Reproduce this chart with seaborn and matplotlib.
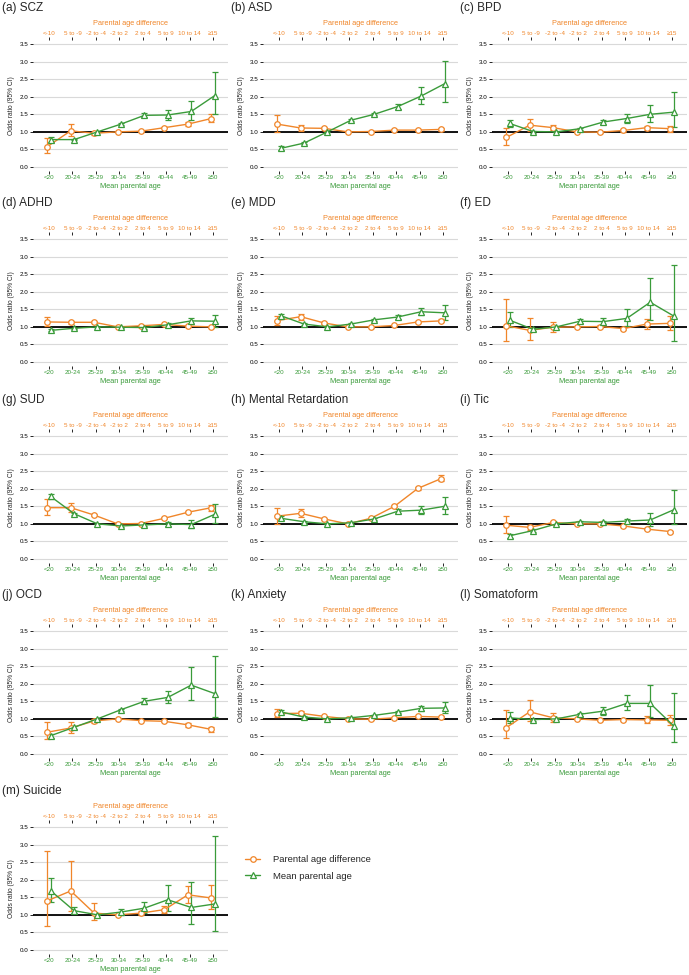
import numpy as np
import pandas as pd
import matplotlib
matplotlib.use("Agg")
import matplotlib.pyplot as plt
from matplotlib.lines import Line2D
import seaborn as sns

diff_labels = ["<-10", "5 to -9", "-2 to -4", "-2 to 2", "2 to 4", "5 to 9", "10 to 14", "\u226515"]
mean_labels = ["<20", "20-24", "25-29", "30-34", "35-39", "40-44", "45-49", "\u226550"]

# odds ratios (diff = parental age difference, mean = mean parental age)
scz_diff    = [0.58, 1.03, 0.96, 1.00, 1.02, 1.12, 1.22, 1.38]
scz_diff_lo = [0.40, 0.87, 0.90, 1.00, 1.00, 1.10, 1.16, 1.28]
scz_diff_hi = [0.83, 1.23, 1.01, 1.00, 1.04, 1.15, 1.29, 1.50]
scz_mean    = [0.78, 0.78, 1.00, 1.22, 1.47, 1.48, 1.58, 2.03]
scz_mean_lo = [0.72, 0.76, 1.00, 1.19, 1.41, 1.35, 1.34, 1.52]
scz_mean_hi = [0.85, 0.80, 1.00, 1.25, 1.54, 1.62, 1.88, 2.70]

asd_diff    = [1.22, 1.11, 1.10, 1.00, 1.01, 1.05, 1.05, 1.07]
asd_diff_lo = [0.99, 1.03, 1.07, 1.00, 0.99, 1.03, 1.03, 1.03]
asd_diff_hi = [1.48, 1.20, 1.13, 1.00, 1.03, 1.07, 1.07, 1.11]
asd_mean    = [0.53, 0.68, 1.00, 1.33, 1.50, 1.72, 2.02, 2.37]
asd_mean_lo = [0.47, 0.65, 1.00, 1.30, 1.47, 1.66, 1.79, 1.86]
asd_mean_hi = [0.59, 0.71, 1.00, 1.36, 1.54, 1.80, 2.27, 3.02]

bpd_diff    = [0.84, 1.19, 1.12, 1.00, 0.99, 1.04, 1.12, 1.09]
bpd_diff_lo = [0.63, 1.02, 1.05, 1.00, 0.97, 1.01, 1.06, 1.00]
bpd_diff_hi = [1.11, 1.38, 1.20, 1.00, 1.01, 1.07, 1.18, 1.18]
bpd_mean    = [1.24, 1.01, 1.00, 1.09, 1.28, 1.38, 1.50, 1.56]
bpd_mean_lo = [1.13, 0.98, 1.00, 1.06, 1.23, 1.26, 1.27, 1.14]
bpd_mean_hi = [1.35, 1.03, 1.00, 1.12, 1.33, 1.51, 1.77, 2.14]

adhd_diff    = [1.14, 1.13, 1.13, 1.00, 1.03, 1.07, 1.02, 1.00]
adhd_diff_lo = [1.02, 1.09, 1.10, 1.00, 1.01, 1.05, 1.00, 0.98]
adhd_diff_hi = [1.27, 1.16, 1.16, 1.00, 1.05, 1.09, 1.04, 1.02]
adhd_mean    = [0.90, 0.96, 1.00, 0.99, 0.98, 1.06, 1.17, 1.16]
adhd_mean_lo = [0.87, 0.94, 1.00, 0.97, 0.95, 1.01, 1.08, 0.99]
adhd_mean_hi = [0.93, 0.98, 1.00, 1.01, 1.01, 1.11, 1.26, 1.34]

mdd_diff    = [1.18, 1.29, 1.11, 1.00, 1.00, 1.04, 1.14, 1.17]
mdd_diff_lo = [1.06, 1.20, 1.08, 1.00, 0.98, 1.02, 1.11, 1.13]
mdd_diff_hi = [1.32, 1.38, 1.14, 1.00, 1.02, 1.06, 1.17, 1.21]
mdd_mean    = [1.32, 1.08, 1.00, 1.08, 1.20, 1.28, 1.43, 1.40]
mdd_mean_lo = [1.28, 1.05, 1.00, 1.06, 1.17, 1.23, 1.34, 1.20]
mdd_mean_hi = [1.36, 1.11, 1.00, 1.10, 1.23, 1.33, 1.53, 1.62]

ed_diff    = [1.03, 0.90, 0.99, 1.00, 1.01, 0.95, 1.08, 1.10]
ed_diff_lo = [0.60, 0.64, 0.86, 1.00, 0.97, 0.91, 0.95, 0.92]
ed_diff_hi = [1.79, 1.26, 1.15, 1.00, 1.05, 0.99, 1.21, 1.31]
ed_mean    = [1.19, 0.93, 1.00, 1.16, 1.15, 1.24, 1.70, 1.31]
ed_mean_lo = [1.00, 0.88, 1.00, 1.10, 1.06, 1.02, 1.20, 0.61]
ed_mean_hi = [1.42, 0.98, 1.00, 1.22, 1.25, 1.51, 2.39, 2.75]

sud_diff    = [1.46, 1.46, 1.25, 1.00, 1.01, 1.16, 1.33, 1.46]
sud_diff_lo = [1.25, 1.33, 1.21, 1.00, 0.99, 1.13, 1.30, 1.38]
sud_diff_hi = [1.70, 1.60, 1.29, 1.00, 1.03, 1.19, 1.36, 1.53]
sud_mean    = [1.78, 1.29, 1.00, 0.94, 0.97, 1.00, 0.98, 1.27]
sud_mean_lo = [1.70, 1.26, 1.00, 0.92, 0.95, 0.95, 0.87, 1.03]
sud_mean_hi = [1.86, 1.32, 1.00, 0.96, 0.99, 1.06, 1.11, 1.56]

mr_diff    = [1.22, 1.30, 1.14, 1.00, 1.16, 1.50, 2.01, 2.29]
mr_diff_lo = [1.00, 1.20, 1.10, 1.00, 1.14, 1.47, 1.97, 2.21]
mr_diff_hi = [1.45, 1.42, 1.18, 1.00, 1.18, 1.53, 2.05, 2.38]
mr_mean    = [1.16, 1.06, 1.00, 1.03, 1.14, 1.36, 1.39, 1.50]
mr_mean_lo = [1.10, 1.03, 1.00, 1.01, 1.11, 1.31, 1.27, 1.27]
mr_mean_hi = [1.21, 1.09, 1.00, 1.05, 1.17, 1.42, 1.52, 1.77]

tic_diff    = [0.96, 0.90, 1.04, 1.00, 1.00, 0.94, 0.85, 0.78]
tic_diff_lo = [0.75, 0.83, 1.01, 1.00, 0.98, 0.92, 0.82, 0.75]
tic_diff_hi = [1.23, 0.97, 1.07, 1.00, 1.02, 0.96, 0.88, 0.81]
tic_mean    = [0.66, 0.81, 1.00, 1.06, 1.04, 1.08, 1.11, 1.40]
tic_mean_lo = [0.61, 0.78, 1.00, 1.03, 1.01, 1.03, 0.93, 1.00]
tic_mean_hi = [0.72, 0.84, 1.00, 1.09, 1.07, 1.13, 1.32, 1.97]

ocd_diff    = [0.62, 0.74, 0.94, 1.00, 0.95, 0.93, 0.83, 0.70]
ocd_diff_lo = [0.42, 0.60, 0.88, 1.00, 0.93, 0.90, 0.77, 0.63]
ocd_diff_hi = [0.91, 0.91, 1.01, 1.00, 0.97, 0.96, 0.89, 0.78]
ocd_mean    = [0.52, 0.76, 1.00, 1.26, 1.50, 1.61, 1.96, 1.72]
ocd_mean_lo = [0.46, 0.72, 1.00, 1.23, 1.42, 1.44, 1.55, 1.06]
ocd_mean_hi = [0.58, 0.80, 1.00, 1.29, 1.59, 1.80, 2.47, 2.79]

anx_diff    = [1.15, 1.16, 1.07, 1.00, 0.99, 1.03, 1.07, 1.05]
anx_diff_lo = [1.04, 1.11, 1.05, 1.00, 0.97, 1.01, 1.05, 1.02]
anx_diff_hi = [1.27, 1.21, 1.09, 1.00, 1.01, 1.05, 1.09, 1.08]
anx_mean    = [1.20, 1.05, 1.00, 1.03, 1.10, 1.19, 1.30, 1.31]
anx_mean_lo = [1.16, 1.03, 1.00, 1.01, 1.08, 1.16, 1.22, 1.16]
anx_mean_hi = [1.24, 1.07, 1.00, 1.05, 1.12, 1.22, 1.38, 1.48]

som_diff    = [0.75, 1.20, 1.03, 1.00, 0.96, 0.98, 0.97, 0.96]
som_diff_lo = [0.45, 0.95, 0.92, 1.00, 0.94, 0.95, 0.87, 0.82]
som_diff_hi = [1.25, 1.54, 1.16, 1.00, 0.98, 1.01, 1.09, 1.11]
som_mean    = [1.03, 0.98, 1.00, 1.13, 1.22, 1.44, 1.44, 0.80]
som_mean_lo = [0.88, 0.95, 1.00, 1.09, 1.12, 1.24, 1.05, 0.35]
som_mean_hi = [1.19, 1.01, 1.00, 1.17, 1.33, 1.67, 1.95, 1.74]

sui_diff    = [1.40, 1.68, 1.05, 1.00, 1.05, 1.15, 1.57, 1.48]
sui_diff_lo = [0.69, 1.12, 0.84, 1.00, 1.00, 1.06, 1.33, 1.18]
sui_diff_hi = [2.81, 2.52, 1.34, 1.00, 1.10, 1.24, 1.83, 1.86]
sui_mean    = [1.69, 1.12, 1.00, 1.08, 1.19, 1.43, 1.21, 1.31]
sui_mean_lo = [1.38, 1.04, 1.00, 1.00, 1.04, 1.11, 0.75, 0.54]
sui_mean_hi = [2.05, 1.21, 1.00, 1.17, 1.37, 1.86, 1.93, 3.23]

panels = [
    ("(a) SCZ", scz_diff, scz_diff_lo, scz_diff_hi, scz_mean, scz_mean_lo, scz_mean_hi),
    ("(b) ASD", asd_diff, asd_diff_lo, asd_diff_hi, asd_mean, asd_mean_lo, asd_mean_hi),
    ("(c) BPD", bpd_diff, bpd_diff_lo, bpd_diff_hi, bpd_mean, bpd_mean_lo, bpd_mean_hi),
    ("(d) ADHD", adhd_diff, adhd_diff_lo, adhd_diff_hi, adhd_mean, adhd_mean_lo, adhd_mean_hi),
    ("(e) MDD", mdd_diff, mdd_diff_lo, mdd_diff_hi, mdd_mean, mdd_mean_lo, mdd_mean_hi),
    ("(f) ED", ed_diff, ed_diff_lo, ed_diff_hi, ed_mean, ed_mean_lo, ed_mean_hi),
    ("(g) SUD", sud_diff, sud_diff_lo, sud_diff_hi, sud_mean, sud_mean_lo, sud_mean_hi),
    ("(h) Mental Retardation", mr_diff, mr_diff_lo, mr_diff_hi, mr_mean, mr_mean_lo, mr_mean_hi),
    ("(i) Tic", tic_diff, tic_diff_lo, tic_diff_hi, tic_mean, tic_mean_lo, tic_mean_hi),
    ("(j) OCD", ocd_diff, ocd_diff_lo, ocd_diff_hi, ocd_mean, ocd_mean_lo, ocd_mean_hi),
    ("(k) Anxiety", anx_diff, anx_diff_lo, anx_diff_hi, anx_mean, anx_mean_lo, anx_mean_hi),
    ("(l) Somatoform", som_diff, som_diff_lo, som_diff_hi, som_mean, som_mean_lo, som_mean_hi),
    ("(m) Suicide", sui_diff, sui_diff_lo, sui_diff_hi, sui_mean, sui_mean_lo, sui_mean_hi),
]

ORANGE = "#F0862A"
GREEN = "#3A9B3A"

sns.set_style("white")
plt.rcParams["font.family"] = ["Liberation Sans", "DejaVu Sans"]

W, H = 689, 975
fig = plt.figure(figsize=(W / 100, H / 100), dpi=100)

col_left = [33, 263, 492]
row_top = [44, 239, 436, 631, 827]   # pixel row of the 3.5 gridline
ppu = 123 / 3.5
ax_w = 195
ax_h = 3.7 * ppu

pos = np.arange(8)
dodge = 0.07

for i, (title, d, dlo, dhi, m, mlo, mhi) in enumerate(panels):
    r, c = divmod(i, 3)
    top_px = row_top[r] - 0.1 * ppu
    ax = fig.add_axes([col_left[c] / W, 1 - (top_px + ax_h) / H, ax_w / W, ax_h / H])
    ax.set_xlim(-0.68, 7.64)
    ax.set_ylim(-0.1, 3.6)
    for s in ax.spines.values():
        s.set_visible(False)
    yt = np.arange(0, 3.51, 0.5)
    for v in yt:
        ax.axhline(v, color="#D9D9D9", lw=0.8, zorder=0)
    ax.axhline(1.0, color="black", lw=1.3, zorder=1.5)

    d, dlo, dhi = map(np.array, (d, dlo, dhi))
    m, mlo, mhi = map(np.array, (m, mlo, mhi))

    ax.errorbar(pos - dodge, d, yerr=[d - dlo, dhi - d], fmt="none", ecolor=ORANGE,
                elinewidth=0.9, capsize=2, capthick=0.9, zorder=2)
    sns.lineplot(x=pos - dodge, y=d, ax=ax, color=ORANGE, marker="o", markersize=4,
                 markerfacecolor="white", markeredgecolor=ORANGE, markeredgewidth=0.9,
                 linewidth=1, zorder=3)
    ax.errorbar(pos + dodge, m, yerr=[m - mlo, mhi - m], fmt="none", ecolor=GREEN,
                elinewidth=0.9, capsize=2, capthick=0.9, zorder=2)
    sns.lineplot(x=pos + dodge, y=m, ax=ax, color=GREEN, marker="^", markersize=4.5,
                 markerfacecolor="white", markeredgecolor=GREEN, markeredgewidth=0.9,
                 linewidth=1, zorder=4)

    ax.set_yticks(yt)
    ax.set_yticklabels([f"{v:.1f}" for v in yt])
    ax.tick_params(axis="y", length=2, width=0.6, pad=1.5, labelsize=4.5, colors="black",
                   left=True)
    ax.set_xticks(pos)
    ax.set_xticklabels(mean_labels)
    ax.tick_params(axis="x", length=2, width=0.7, pad=1.5, labelsize=4.5, bottom=True)
    for lab in ax.get_xticklabels():
        lab.set_color(GREEN)
    ax.set_xlabel("Mean parental age", color=GREEN, fontsize=5.3, labelpad=2)
    ax.set_ylabel("Odds ratio (95% CI)", fontsize=4.8, labelpad=3)

    sec = ax.secondary_xaxis("top")
    sec.set_xticks(pos)
    sec.set_xticklabels(diff_labels)
    sec.tick_params(axis="x", length=2, width=0.7, pad=1.5, labelsize=4.5, top=True)
    for lab in sec.get_xticklabels():
        lab.set_color(ORANGE)
    sec.spines["top"].set_visible(False)
    sec.set_xlabel("Parental age difference", color=ORANGE, fontsize=5.3, labelpad=4)

    fig.text([2, 231, 460][c] / W, 1 - (row_top[r] - 36) / H, title, fontsize=8.5,
             ha="left", va="center")

handles = [
    Line2D([], [], color=ORANGE, marker="o", markersize=4, markerfacecolor="white",
           markeredgewidth=0.9, lw=1),
    Line2D([], [], color=GREEN, marker="^", markersize=4.5, markerfacecolor="white",
           markeredgewidth=0.9, lw=1),
]
fig.legend(handles, ["Parental age difference", "Mean parental age"], loc="upper left",
           bbox_to_anchor=(245 / W, 1 - 855 / H), frameon=False, fontsize=6.8,
           handlelength=1.6, handletextpad=1.4, labelspacing=0.8, borderpad=0,
           borderaxespad=0)

fig.savefig("out.png", dpi=100, facecolor="white")
